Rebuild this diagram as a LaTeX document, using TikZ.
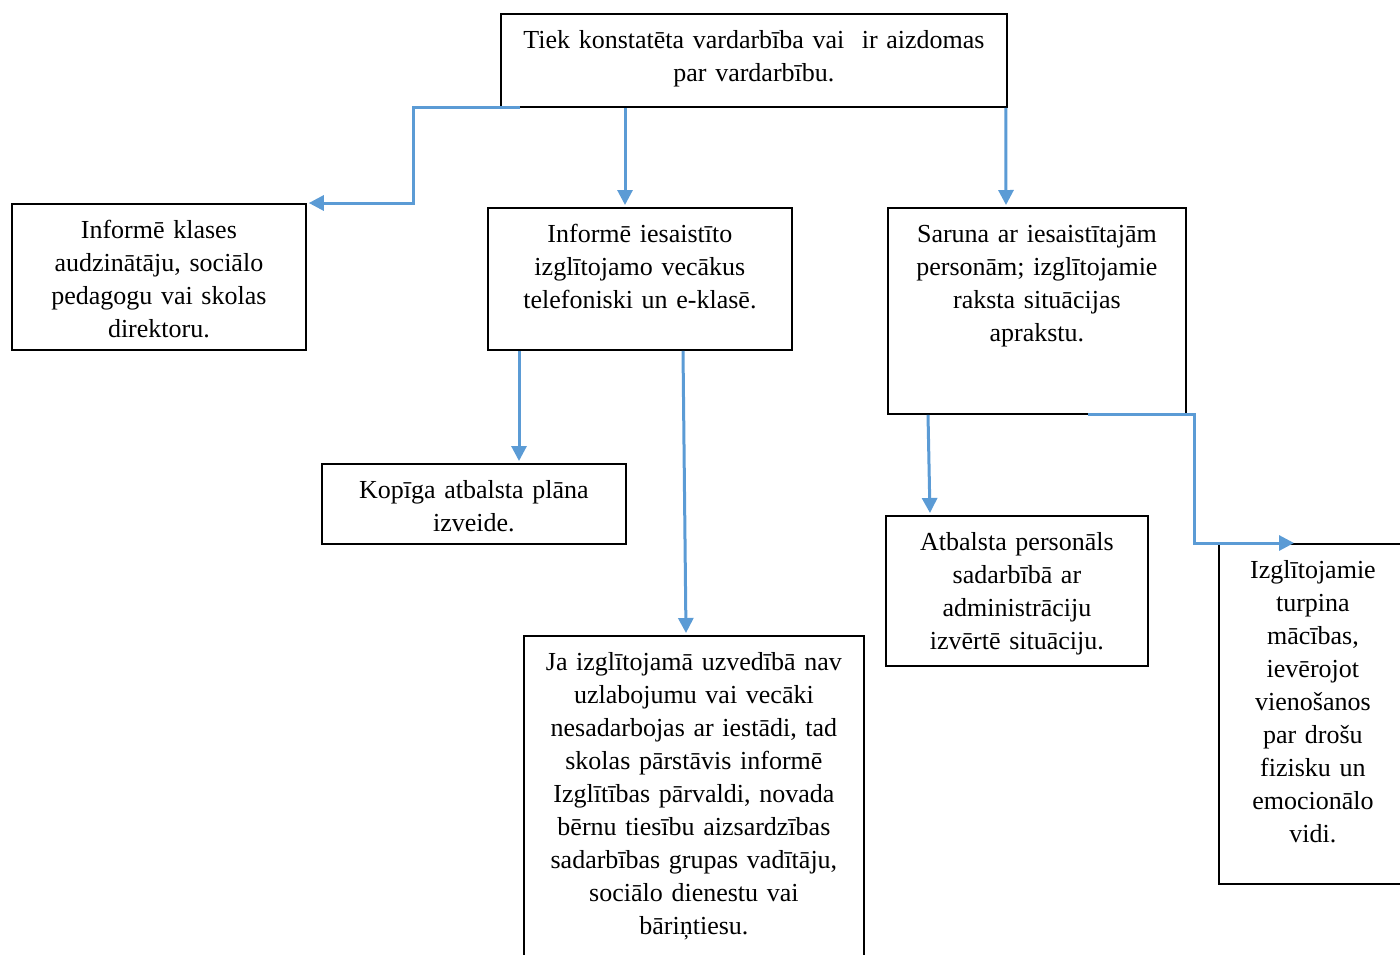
\documentclass[tikz,border=0pt]{standalone}
\usepackage{fontspec}
\setmainfont{Liberation Serif}
\usetikzlibrary{arrows.meta}
\definecolor{arrblue}{HTML}{5B9BD5}
\tikzset{
  bx/.style={draw, line width=0.9pt, align=center, inner sep=0pt, anchor=north west,
    text height=17.5pt, font=\fontsize{13}{16.5}\selectfont},
  arr/.style={draw=arrblue, line width=1.5pt, shorten >=1pt,
    -{Triangle[length=7.5pt,width=7.5pt]}}
}

\begin{document}
\begin{tikzpicture}[x=0.5pt,y=-0.5pt]
        \useasboundingbox (0,0) rectangle (1400,954);
        \clip (0,0) rectangle (1400,954);
        \node[bx, text width=253pt, text depth=29pt] (start) at (500,13) {Tiek konstatēta vardarbība vai\ \ ir aizdomas\\par vardarbību.};
        \node[bx, text width=147pt, text depth=55.5pt] (klase) at (11,203) {Informē klases\\audzinātāju, sociālo\\pedagogu vai skolas\\direktoru.};
        \node[bx, text width=152pt, text depth=53.5pt] (vecaki) at (487,207) {Informē iesaistīto\\izglītojamo vecākus\\telefoniski un e-klasē.};
        \node[bx, text width=149pt, text depth=85.5pt] (saruna) at (887,207) {Saruna ar iesaistītajām\\personām; izglītojamie\\raksta situācijas\\aprakstu.};
        \node[bx, text width=152pt, text depth=22.5pt] (plans) at (321,463) {Kopīga atbalsta plāna\\izveide.};
        \node[bx, text width=170pt, text depth=147.5pt] (parvalde) at (523,635) {Ja izglītojamā uzvedībā nav\\uzlabojumu vai vecāki\\nesadarbojas ar iestādi, tad\\skolas pārstāvis informē\\Izglītības pārvaldi, novada\\bērnu tiesību aizsardzības\\sadarbības grupas vadītāju,\\sociālo dienestu vai\\bāriņtiesu.};
        \node[bx, text width=131pt, text depth=57.5pt] (atbalsts) at (885,515) {Atbalsta personāls\\sadarbībā ar\\administrāciju\\izvērtē situāciju.};
        \node[bx, text width=94pt, text depth=152.5pt] (macibas) at (1218,543) {Izglītojamie\\turpina\\mācības,\\ievērojot\\vienošanos\\par drošu\\fizisku un\\emocionālo\\vidi.};
        \draw[arr] ([xshift=10pt]start.south west) -- ++(-107,0) |- (klase.north east);
        \draw[arr] ([xshift=62.5pt]start.south west) -- ([xshift=69pt]vecaki.north west);
        \draw[arr] ([xshift=-1pt]start.south east) -- ([xshift=59.5pt]saruna.north west);
        \draw[arr] ([xshift=16pt]vecaki.south west) -- ([xshift=99pt]plans.north west);
        \draw[arr] ([xshift=98pt]vecaki.south west) -- ([xshift=81.5pt]parvalde.north west);
        \draw[arr] ([xshift=20.5pt]saruna.south west) -- ([xshift=22.5pt]atbalsts.north west);
        \draw[arr] ([xshift=-49.5pt]saruna.south east) -- ++(107,0) |- ([xshift=39pt]macibas.north west);
    \end{tikzpicture}
\end{document}
